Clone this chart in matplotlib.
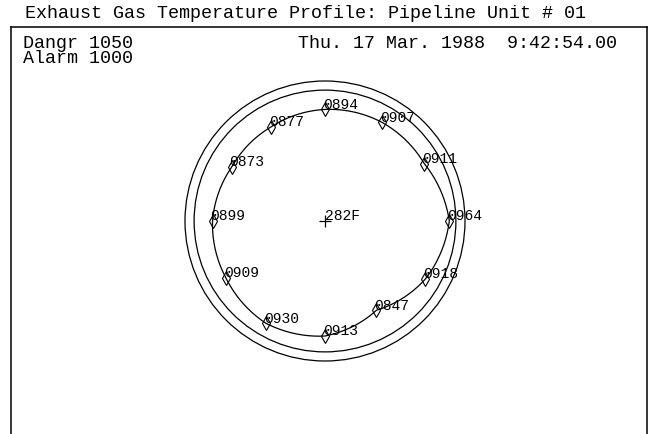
import numpy as np
import matplotlib
matplotlib.use("Agg")
import matplotlib.pyplot as plt
from matplotlib.lines import Line2D

# ---------------- data ----------------
title = "Exhaust Gas Temperature Profile: Pipeline Unit # 01"
date_text = "Thu. 17 Mar. 1988  9:42:54.00"
danger_limit = 1050
alarm_limit = 1000
center_temp = 282
center_label = "282F"
# cylinder exhaust temperatures, clockwise starting at the top
cyl_labels = ["0894", "0907", "0911", "0964", "0918", "0847",
              "0913", "0930", "0909", "0899", "0873", "0877"]
cyl_temps = [894, 907, 911, 964, 918, 847, 913, 930, 909, 899, 873, 877]

# ---------------- layout ----------------
W, H = 650, 434
fig = plt.figure(figsize=(W / 100, H / 100), dpi=100)
fig.patch.set_facecolor("white")
HEAD = ["Liberation Mono", "DejaVu Sans Mono"]
LAB = ["Liberation Mono", "DejaVu Sans Mono"]

def fx(px):
    return px / W

def fy(py):
    return 1 - py / H

# frame box (open at the bottom)
lw_box = 1.1
for xs, ys in (([11, 11], [27, 440]), ([11, 647], [27, 27]), ([647, 647], [27, 440])):
    fig.add_artist(Line2D([fx(v) for v in xs], [fy(v) for v in ys],
                          color="black", lw=lw_box, solid_capstyle="projecting"))

hs = 13.2
fig.text(fx(25), fy(18), title, family=HEAD, fontsize=hs, va="baseline", ha="left")
fig.text(fx(23), fy(48), f"Dangr {danger_limit}", family=HEAD, fontsize=hs, va="baseline")
fig.text(fx(23), fy(63), f"Alarm {alarm_limit}", family=HEAD, fontsize=hs, va="baseline")
fig.text(fx(617), fy(48), date_text, family=HEAD, fontsize=hs, va="baseline", ha="right")

# polar plot area
cx, cy = 325, 221
px_per_deg = 0.1823
rmax = 1100
R = (rmax - center_temp) * px_per_deg
ax = fig.add_axes([fx(cx - R), fy(cy + R), 2 * R / W, 2 * R / H], projection="polar")
ax.set_theta_zero_location("N")
ax.set_theta_direction(-1)
ax.set_ylim(center_temp, rmax)
ax.set_axis_off()

n = len(cyl_temps)
theta = np.arange(n + 1) * 2 * np.pi / n
temps_closed = list(cyl_temps) + [cyl_temps[0]]

ring_theta = np.linspace(0, 2 * np.pi, 5)
for lim in (danger_limit, alarm_limit):
    (ring,) = ax.plot(ring_theta, [lim] * len(ring_theta), color="black", lw=0.9,
                      solid_capstyle="butt")
    ring.get_path()._interpolation_steps = 64

(prof,) = ax.plot(theta, temps_closed, color="black", lw=0.9, solid_capstyle="butt")
prof.get_path()._interpolation_steps = 32

ax.plot(theta[:-1], cyl_temps, linestyle="none", marker="d", markersize=7,
        mfc="none", mec="black", mew=0.8)

for t, T, lab in zip(theta[:-1], cyl_temps, cyl_labels):
    ax.annotate(lab, (t, T), xytext=(-1.5, 0.5), textcoords="offset points",
                ha="left", va="baseline", family=LAB, fontsize=10.5)

ax.plot([0], [center_temp], marker="+", markersize=8, color="black", mew=0.9, clip_on=False)
ax.annotate(center_label, (0, center_temp), xytext=(0, 0.5), textcoords="offset points",
            ha="left", va="baseline", family=LAB, fontsize=10.5, annotation_clip=False)

fig.savefig("out.png", dpi=100, facecolor="white")
